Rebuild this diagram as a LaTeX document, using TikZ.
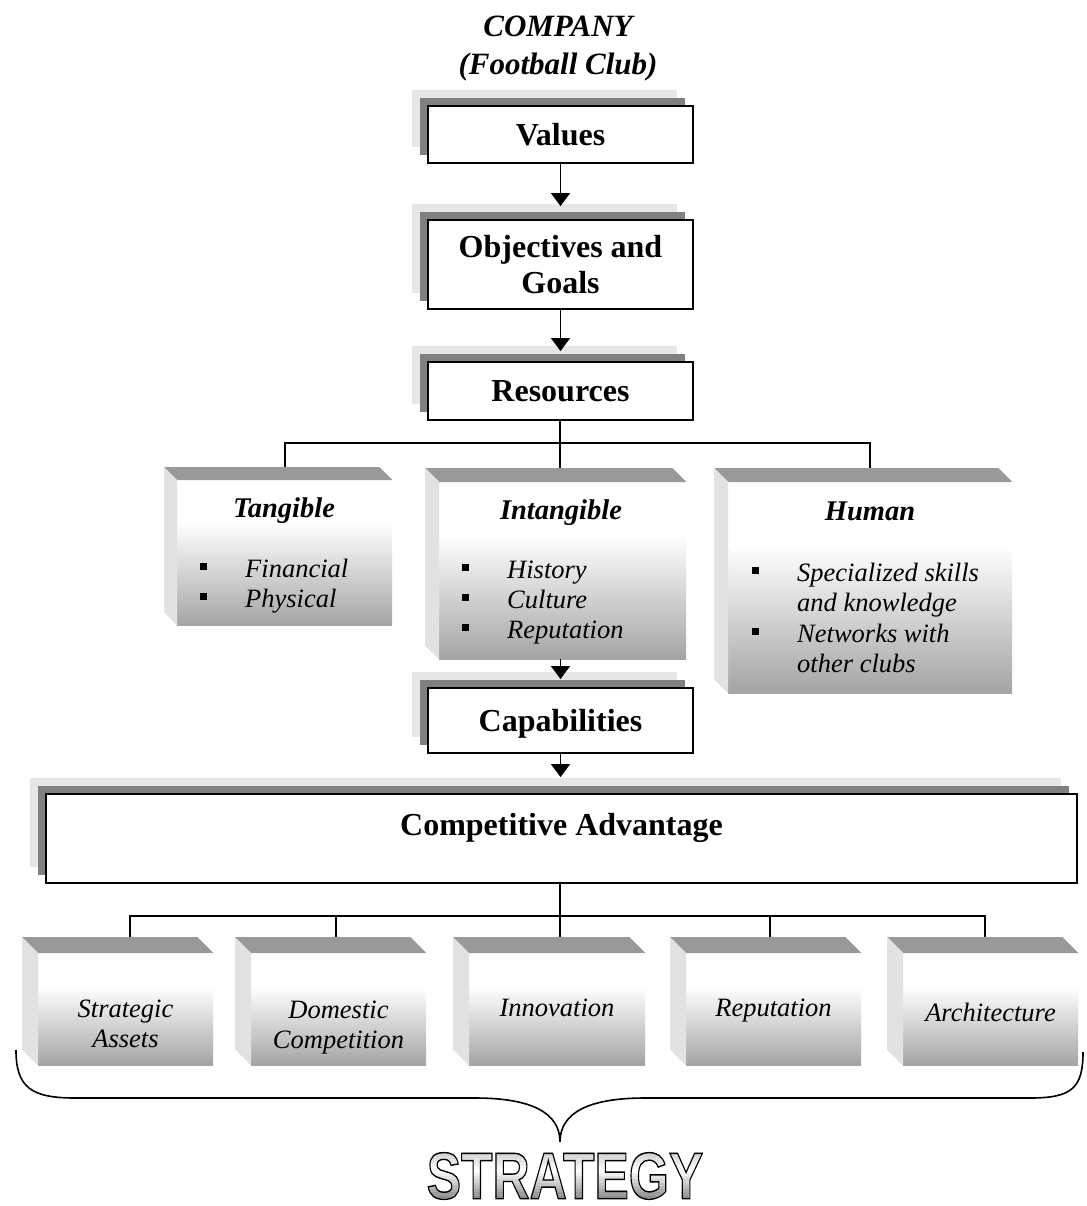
\documentclass[tikz,border=0pt]{standalone}
\usepackage{fontspec}
\setmainfont{Liberation Serif}
\newfontfamily\stratfont{Liberation Sans}
\usepackage{graphicx}
\usetikzlibrary{arrows.meta,shadows}

\definecolor{shlight}{HTML}{E6E6E6}
\definecolor{shdark}{HTML}{808080}
\definecolor{cubetop}{HTML}{999999}
\definecolor{cubeside}{HTML}{E2E2E2}
\definecolor{cubebase}{HTML}{A4A4A4}

% front face of a cube: white at the top, grey at the bottom
\pgfdeclareverticalshading{cubegrad}{100bp}{color(0bp)=(cubebase); color(25bp)=(cubebase); color(60bp)=(white); color(100bp)=(white)}

% square bullet hanging to the left of an item
\newcommand\itembullet{\llap{\raisebox{7pt}{\rule{7pt}{7pt}}\hspace{38.5pt}}}

% outline-only text (stroke render mode)
\newcommand\strokedtext[1]{\special{pdf:literal direct 1 Tr 1.4 w}#1\special{pdf:literal direct 0 Tr}}

% top and left faces of a cube whose front face is node #1, depth #2
\newcommand\cubefaces[2]{%
  \fill[cubetop] (#1.north west) -- ++(-#2,-#2) -- ([shift={(-#2,-#2)}]#1.north east) -- (#1.north east) -- cycle;
  \fill[cubeside] (#1.north west) -- ++(-#2,-#2) -- ([shift={(-#2,-#2)}]#1.south west) -- (#1.south west) -- cycle;
}

\tikzset{
  flowbox/.style={draw=black, line width=1.8pt, fill=white, inner sep=0pt, align=center,
    text depth=0pt, font=\fontsize{32}{36}\selectfont\bfseries,
    general shadow={fill=shlight, draw=none, shadow xshift=-16pt, shadow yshift=16pt},
    general shadow={fill=shdark, draw=none, shadow xshift=-8pt, shadow yshift=8pt}},
  cubefront/.style={shading=cubegrad, draw=none, inner sep=0pt, anchor=north west},
  cubetitle/.style={font=\fontsize{28.5}{32}\selectfont\bfseries\itshape, inner sep=0pt, anchor=base},
  cubeitem/.style={font=\fontsize{26.5}{30}\selectfont\itshape, inner sep=0pt, anchor=base west},
  cubelabel/.style={font=\fontsize{26.5}{30}\selectfont\itshape, inner sep=0pt, anchor=base},
  link/.style={line width=1.5pt},
  flowarrow/.style={line width=1.5pt, -{Triangle[width=19pt,length=13pt]}},
  heading/.style={font=\fontsize{31}{36}\selectfont\bfseries\itshape, inner sep=0pt, anchor=base},
  strat/.style={font=\fontsize{66}{66}\stratfont\bfseries, inner sep=0pt},
}

\begin{document}
\begin{tikzpicture}[x=1pt, y=-1pt]
\fill[white] (0,0) rectangle (1086,1206);
\useasboundingbox (0,0) rectangle (1086,1206);

% heading
\node[heading] (company) at (558,37) {COMPANY};
\node[heading] (club) at (558,75) {(Football Club)};

% main chain
\node[flowbox, minimum width=265pt, minimum height=57pt] (values) at (560.5,134.5) {Values};
\node[flowbox, minimum width=265pt, minimum height=89pt] (objectives) at (560.5,264.5) {Objectives and\\Goals};
\node[flowbox, minimum width=265pt, minimum height=58pt] (resources) at (560.5,391) {Resources};

% resource cubes
\node[cubefront, minimum width=215pt, minimum height=145pt] (tangible) at (177,480) {};
\cubefaces{tangible}{13}
\node[cubetitle] (tangible-title) at (284,517) {Tangible};
\node[cubeitem] (tangible-1) at (245,577) {\itembullet Financial};
\node[cubeitem] (tangible-2) at (245,607) {\itembullet Physical};

\node[cubefront, minimum width=247pt, minimum height=177pt] (intangible) at (439,482) {};
\cubefaces{intangible}{14}
\node[cubetitle] (intangible-title) at (561,519) {Intangible};
\node[cubeitem] (intangible-1) at (507,578) {\itembullet History};
\node[cubeitem] (intangible-2) at (507,608) {\itembullet Culture};
\node[cubeitem] (intangible-3) at (507,638) {\itembullet Reputation};

\node[cubefront, minimum width=284pt, minimum height=211pt] (human) at (728,482) {};
\cubefaces{human}{14}
\node[cubetitle] (human-title) at (870,520) {Human};
\node[cubeitem] (human-1) at (797,581) {\itembullet Specialized skills};
\node[cubeitem] (human-2) at (797,611) {and knowledge};
\node[cubeitem] (human-3) at (797,642) {\itembullet Networks with};
\node[cubeitem] (human-4) at (797,672) {other clubs};

\node[flowbox, minimum width=265pt, minimum height=65pt] (capabilities) at (560.5,720.5) {Capabilities};
\node[flowbox, minimum width=1031pt, minimum height=89pt, text depth=29pt] (advantage) at (561.5,838.5) {Competitive Advantage};

% advantage cubes
\node[cubefront, minimum width=175pt, minimum height=112pt] (assets) at (38,953) {};
\cubefaces{assets}{16}
\node[cubelabel] (assets-1) at (125.5,1017) {Strategic};
\node[cubelabel] (assets-2) at (125.5,1047) {Assets};

\node[cubefront, minimum width=175pt, minimum height=112pt] (domestic) at (251,953) {};
\cubefaces{domestic}{16}
\node[cubelabel] (domestic-1) at (338.5,1018) {Domestic};
\node[cubelabel] (domestic-2) at (338.5,1048) {Competition};

\node[cubefront, minimum width=176pt, minimum height=112pt] (innovation) at (469,953) {};
\cubefaces{innovation}{16}
\node[cubelabel] (innovation-1) at (557,1016) {Innovation};

\node[cubefront, minimum width=175pt, minimum height=112pt] (reputation) at (686,953) {};
\cubefaces{reputation}{16}
\node[cubelabel] (reputation-1) at (773.5,1016) {Reputation};

\node[cubefront, minimum width=175pt, minimum height=112pt] (architecture) at (903,953) {};
\cubefaces{architecture}{16}
\node[cubelabel] (architecture-1) at (990.5,1021) {Architecture};

% arrows of the main chain
\draw[flowarrow] (values.south) -- ([yshift=13pt]objectives.north);
\draw[flowarrow] (objectives.south) -- ([yshift=10pt]resources.north);
\draw[flowarrow] (capabilities.north |- intangible.south) -- ([yshift=8pt]capabilities.north);
\path (capabilities.south |- advantage.north) ++(0,-16) coordinate (adv-in);
\draw[flowarrow] (capabilities.south) -- (adv-in);

% resources tree
\coordinate (res-bus) at (560,443);
\coordinate (tangible-top) at (285,467);
\coordinate (intangible-top) at (560,468);
\coordinate (human-top) at (870,468);
\draw[link] (res-bus |- resources.south) -- (res-bus);
\draw[link] (tangible-top) |- (res-bus) -| (human-top);
\draw[link] (res-bus) -- (intangible-top);

% advantage tree
\coordinate (adv-bus) at (560,916);
\coordinate (assets-top) at (130,937);
\coordinate (domestic-top) at (336,937);
\coordinate (innovation-top) at (560,937);
\coordinate (reputation-top) at (770,937);
\coordinate (architecture-top) at (985,937);
\draw[link] (adv-bus |- advantage.south) -- (adv-bus);
\draw[link] (assets-top) |- (adv-bus) -| (architecture-top);
\draw[link] (domestic-top) -- (domestic-top |- adv-bus);
\draw[link] (innovation-top) -- (adv-bus);
\draw[link] (reputation-top) -- (reputation-top |- adv-bus);

% brace gathering the five cubes
\draw[line width=1.6pt] (16,1050) .. controls (16,1088) and (32,1098) .. (75,1098)
  -- (475,1098) .. controls (530,1098) and (560,1112) .. (560,1142)
  .. controls (560,1112) and (590,1098) .. (645,1098)
  -- (1030,1098) .. controls (1072,1098) and (1083,1088) .. (1083,1052);

% outlined word: grey-to-white-to-grey fill built from horizontal bands
\foreach \i in {0,...,15} {
  \pgfmathsetmacro\stripA{1150+3.3*\i}
  \pgfmathsetmacro\stripB{\stripA+3.7}
  \pgfmathsetmacro\stripT{(\i+0.5)/16}
  \pgfmathsetmacro\stripW{\stripT<0.4 ? 78+22*\stripT/0.4 : 100-52*(\stripT-0.4)/0.6}
  \begin{scope}
    \clip (400,\stripA) rectangle (730,\stripB);
    \node[strat, text=white!\stripW!black] (strategy-\i) at (565,1176) {\scalebox{0.78}[1]{STRATEGY}};
  \end{scope}
}
\node[strat, text=black] (strategy) at (565,1176) {\strokedtext{\scalebox{0.78}[1]{STRATEGY}}};
\end{tikzpicture}
\end{document}
